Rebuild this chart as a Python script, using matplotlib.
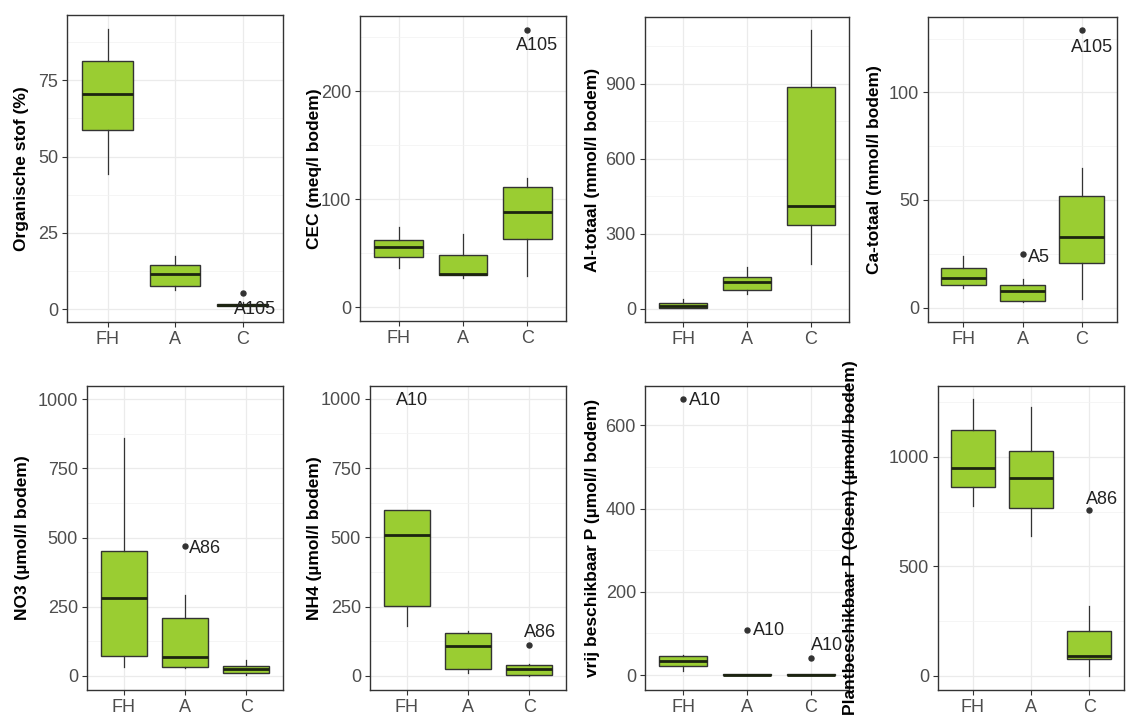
import matplotlib
matplotlib.use("Agg")
import matplotlib.pyplot as plt
from matplotlib.ticker import MultipleLocator

plt.rcParams['font.family'] = ['Liberation Sans', 'DejaVu Sans']

groups = ["FH", "A", "C"]

# five-number summaries per horizon: (whisker low, Q1, median, Q3, whisker high)
org_stof = [(44.3, 58.6, 70.6, 81.3, 91.7), (6.4, 7.5, 11.4, 14.4, 17.4), (0.5, 1.0, 1.3, 1.6, 2.2)]
cec = [(36.4, 46.6, 55.8, 62.0, 74.4), (27.5, 29.6, 30.6, 48.8, 68.2), (28.7, 63.0, 87.7, 111.4, 119.2)]
al_tot = [(2, 4, 12, 22, 37), (60, 73, 107, 127, 167), (180, 334, 410, 888, 1115)]
ca_tot = [(9.3, 10.7, 13.8, 18.6, 23.9), (2.6, 3.1, 7.7, 10.7, 13.5), (4.2, 20.5, 32.9, 52.0, 64.8)]
no3 = [(31, 73, 281, 453, 859), (28, 31, 67, 208, 293), (4, 10, 24, 36, 58)]
nh4 = [(181, 254, 510, 597, 597), (10, 24, 108, 154, 164), (0, 4, 24, 40, 42)]
vrij_p = [(9.6, 22.4, 33.7, 46.5, 48), (0, 0.5, 1, 1.5, 2), (0, 0.5, 1, 1.5, 2)]
plant_p = [(774, 861, 948, 1120, 1265), (637, 767, 901, 1025, 1227), (0, 76, 91, 206, 320)]

# outliers: (group index, value, sample code)
org_stof_out = [(2, 5.3, "A105")]
cec_out = [(2, 256.5, "A105")]
al_tot_out = []
ca_tot_out = [(1, 24.8, "A5"), (2, 128.9, "A105")]
no3_out = [(1, 470, "A86")]
nh4_out = [(0, 1060, "A10"), (2, 112, "A86")]
vrij_p_out = [(0, 664, "A10"), (1, 108, "A10"), (2, 40, "A10")]
plant_p_out = [(2, 759, "A86")]

labels = ["Organische stof (%)", "CEC (meq/l bodem)", "Al-totaal (mmol/l bodem)",
          "Ca-totaal (mmol/l bodem)", "NO3 (µmol/l bodem)", "NH4 (µmol/l bodem)",
          "vrij beschikbaar P (µmol/l bodem)", "Plantbeschikbaar P (Olsen) (µmol/l bodem)"]

W, H = 1130, 717
# panel boxes in pixels: left, top, right, bottom, y-label centre x
boxes = [(67, 15, 283, 322, 22), (360, 16, 566, 321, 314), (645, 17, 849, 322, 592),
         (928, 17, 1117, 322, 874), (87, 386, 283, 690, 23), (370, 386, 566, 690, 314),
         (645, 386, 849, 690, 592), (938, 386, 1124, 690, 850)]
ylims = [(-4.2, 96.4), (-12.7, 269.4), (-53.7, 1166), (-6.7, 135),
         (-50.6, 1048), (-50.6, 1046), (-36, 694.7), (-64, 1323)]
ysteps = [25, 100, 300, 50, 250, 250, 200, 500]
# label offsets (pixels) from each outlier point
offsets = [[(13, -16)], [(10, -16)], [], [(16, -3), (10, -17)],
           [(20, -3)], [(5, -18), (11, 12)], [(22, -2), (22, 0), (16, 13)], [(13, 10)]]

stats_all = [org_stof, cec, al_tot, ca_tot, no3, nh4, vrij_p, plant_p]
outs_all = [org_stof_out, cec_out, al_tot_out, ca_tot_out, no3_out, nh4_out, vrij_p_out, plant_p_out]

fill = '#9ACD32'
dark = '#333333'

fig = plt.figure(figsize=(W / 100, H / 100), dpi=100)

for i in range(8):
    l, t, r, b, lab_x = boxes[i]
    ax = fig.add_axes([l / W, 1 - b / H, (r - l) / W, (b - t) / H])

    bstats = []
    for j, s in enumerate(stats_all[i]):
        bstats.append(dict(whislo=s[0], q1=s[1], med=s[2], q3=s[3], whishi=s[4],
                           fliers=[o[1] for o in outs_all[i] if o[0] == j]))
    ax.bxp(bstats, positions=[1, 2, 3], widths=0.75, patch_artist=True, showcaps=False,
           boxprops=dict(facecolor=fill, edgecolor=dark, linewidth=1.0),
           medianprops=dict(color='#1c2410', linewidth=2.0),
           whiskerprops=dict(color=dark, linewidth=0.9),
           flierprops=dict(marker='o', markersize=3.6, markerfacecolor=dark,
                           markeredgecolor=dark))

    for (j, val, code), (dx, dy) in zip(outs_all[i], offsets[i]):
        ax.annotate(code, xy=(j + 1, val), xytext=(dx, dy), textcoords='offset pixels',
                    ha='center', va='center', fontsize=13, color='#222222',
                    annotation_clip=False)

    ax.set_xlim(0.4, 3.6)
    ax.set_ylim(*ylims[i])
    ax.set_xticks([1, 2, 3])
    ax.set_xticklabels(groups)
    ax.yaxis.set_major_locator(MultipleLocator(ysteps[i]))
    ax.yaxis.set_minor_locator(MultipleLocator(ysteps[i] / 2))

    ax.set_axisbelow(True)
    ax.grid(True, which='major', color='#EBEBEB', linewidth=0.9)
    ax.grid(True, which='minor', axis='y', color='#F2F2F2', linewidth=0.5)
    ax.tick_params(which='major', length=3.5, width=0.8, color=dark,
                   labelsize=13, labelcolor='#4D4D4D', pad=3)
    ax.tick_params(which='minor', length=0)
    for sp in ax.spines.values():
        sp.set_color(dark)
        sp.set_linewidth(1.0)

    ax.set_ylabel(labels[i], fontsize=12.5, fontweight='bold', color='black', va='center')
    ax.yaxis.set_label_coords((lab_x - l) / (r - l), 0.5)

fig.savefig("out.png", dpi=100)
